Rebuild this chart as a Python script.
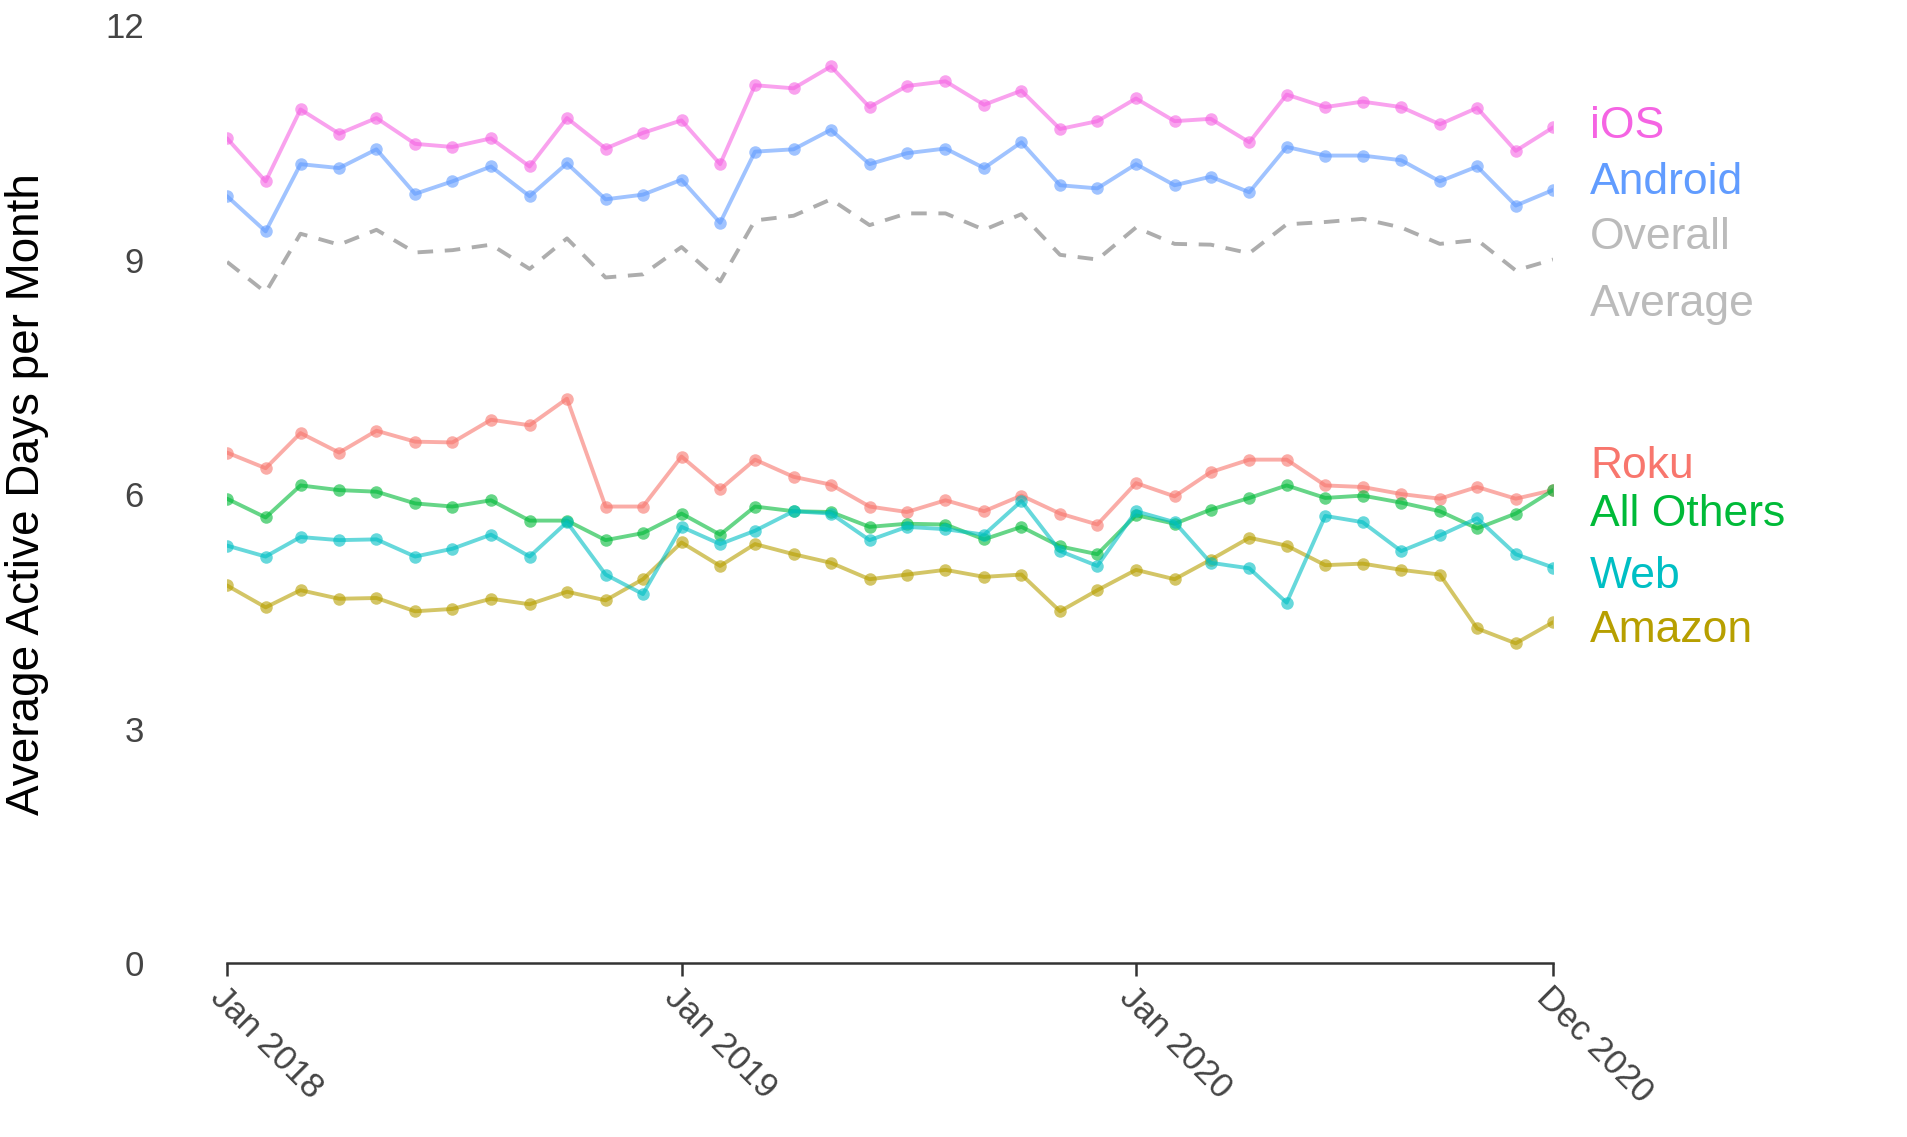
import numpy as np, pandas as pd, matplotlib
matplotlib.use("Agg")
import matplotlib.pyplot as plt, seaborn as sns

months = pd.date_range("2018-01-01", "2020-12-01", freq="MS")
def v(px): return [round((788 - p) / 64, 2) for p in px]
ios = v([113,148,89,109,96,117,120,113,136,96,121,108,98,134,69,72,54,87,70,66,85,74,105,99,80,99,97,116,77,87,83,87,101,88,123,104])
android = v([160,189,134,137,122,158,148,136,160,133,163,159,147,182,124,122,106,134,125,121,137,116,151,154,134,151,144,157,120,127,127,131,148,136,168,155])
overall = v([214,239,191,200,188,206,204,200,220,195,227,224,202,230,180,176,163,184,174,174,188,175,208,212,186,199,200,207,183,181,179,186,199,196,221,212])
roku = v([370,383,354,370,352,361,362,343,348,326,414,414,373,400,376,390,396,414,419,409,418,405,420,429,395,406,386,376,376,397,398,404,408,398,408,401])
others = v([408,423,397,401,402,412,414,409,426,426,442,436,420,437,414,418,419,431,428,429,441,431,447,453,421,428,417,407,397,407,405,411,418,432,420,401])
web = v([446,455,439,442,441,455,449,437,455,427,470,486,431,445,434,418,420,442,431,433,437,410,451,463,418,427,460,465,493,422,427,451,438,424,453,464])
amazon = v([479,497,483,490,489,500,498,490,494,484,491,474,444,463,445,453,460,474,470,466,472,470,500,483,466,474,458,440,446,462,461,466,470,514,526,509])

series = {"Roku": roku, "Amazon": amazon, "All Others": others, "Web": web, "Android": android, "iOS": ios}
colors = {"Roku": "#F8766D", "Amazon": "#B79F00", "All Others": "#00BA38",
          "Web": "#00BFC4", "Android": "#619CFF", "iOS": "#F564E3"}
df = pd.concat([pd.DataFrame({"month": months, "value": vals, "platform": k}) for k, vals in series.items()])

sns.set_theme(style="white")
plt.rcParams["font.family"] = ["Liberation Sans", "DejaVu Sans"]
fig = plt.figure(figsize=(19.08, 11.37), dpi=100)
ax = fig.add_axes([0.119, 0.153, 0.695, 0.825])
sns.lineplot(data=df, x="month", y="value", hue="platform", palette=colors, marker="o",
             markersize=9, markeredgewidth=0, linewidth=2.8, alpha=0.6, legend=False, ax=ax)
ax.plot(months, overall, color="#999999", linestyle="--", linewidth=2.8, alpha=0.8, dashes=(4, 3))

ax.set_ylim(0, 12)
ax.set_yticks([0, 3, 6, 9, 12])
ax.set_xlim(months[0], months[-1])
ticks = [months[0], months[12], months[24], months[35]]
ax.set_xticks(ticks)
ax.set_xticklabels(["Jan 2018", "Jan 2019", "Jan 2020", "Dec 2020"], rotation=-45, ha="left",
                   rotation_mode="anchor", fontsize=25, color="#444444")
ax.tick_params(axis="y", labelsize=25, labelcolor="#444444", length=0, pad=60)
ax.tick_params(axis="x", length=9, width=1.8, color="#333333", bottom=True, pad=4)
for s in ["top", "right", "left"]:
    ax.spines[s].set_visible(False)
ax.spines["bottom"].set_color("#333333")
ax.spines["bottom"].set_linewidth(1.8)
ax.set_xlabel("")
ax.set_ylabel("Average Active Days per Month", fontsize=33, color="black", labelpad=40)
for lab in ax.get_xticklabels():
    pass

labels = [("iOS", 10.7, colors["iOS"]), ("Android", 9.98, colors["Android"]),
          ("Overall", 9.28, "#BBBBBB"), ("Average", 8.42, "#BBBBBB"),
          ("Roku", 6.35, colors["Roku"]), ("All Others", 5.74, colors["All Others"]),
          ("Web", 4.95, colors["Web"]), ("Amazon", 4.25, colors["Amazon"])]
for t, y, c in labels:
    ax.text(1.028, y / 12, t, transform=ax.transAxes, color=c, fontsize=32, va="center", ha="left")

fig.savefig("out.png", dpi=100)
